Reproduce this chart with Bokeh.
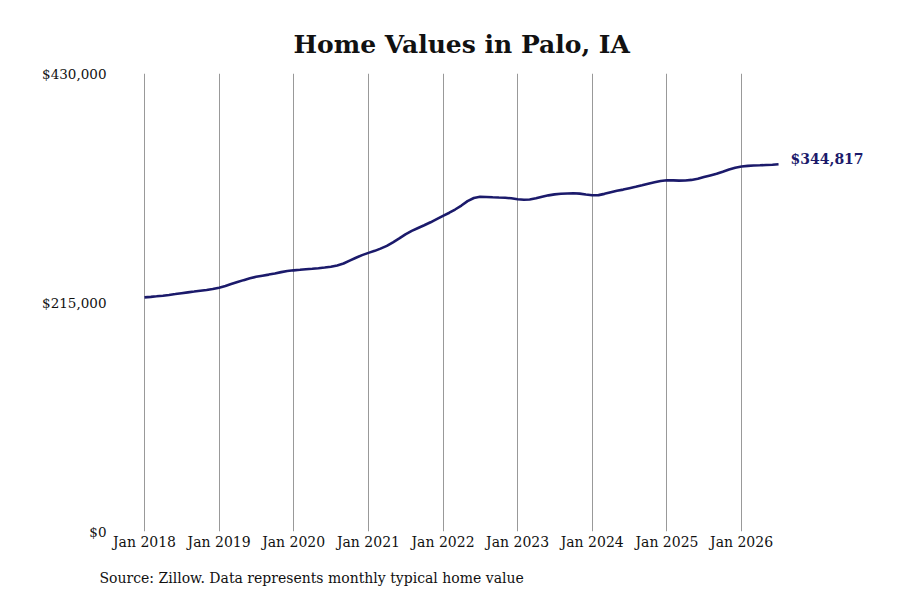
import pandas as pd
from bokeh.plotting import figure
from bokeh.models import Range1d, FixedTicker, NumeralTickFormatter, DatetimeTickFormatter, Title, Label
from bokeh.embed import file_html
from bokeh.resources import INLINE

# ---- data (monthly typical home value) ----
start_month = "2018-01-01"
values = [
    # 2018
    219850, 220300, 220800, 221400, 222100, 222900, 223700, 224500, 225300, 226100, 226800, 227700,
    # 2019
    228900, 230500, 232300, 234200, 236000, 237700, 239100, 240200, 241200, 242300, 243500, 244500,
    # 2020
    245200, 245700, 246200, 246700, 247200, 247800, 248600, 249800, 251600, 254300, 257000, 259500,
    # 2021
    261600, 263500, 265600, 268200, 271500, 275200, 279000, 282300, 285000, 287500, 290300, 293300,
    # 2022
    296400, 299300, 302300, 306000, 310200, 313100, 314200, 314100, 313800, 313600, 313400, 312800,
    # 2023
    312000, 311500, 311700, 312800, 314300, 315600, 316500, 317100, 317400, 317500, 317200, 316400,
    # 2024
    315700, 315800, 317000, 318600, 319900, 321000, 322300, 323600, 325000, 326500, 327900, 329100,
    # 2025
    329800, 329700, 329400, 329500, 330100, 331200, 332800, 334300, 335800, 337800, 339900, 341600,
    # 2026
    342700, 343300, 343600, 343800, 344100, 344400, 344817,
]
dates = pd.date_range(start_month, periods=len(values), freq="MS")
tick_years = list(range(2018, 2027))
y_ticks = [0, 215000, 430000]
title_text = "Home Values in Palo, IA"
source_text = "Source: Zillow. Data represents monthly typical home value"
last_label = "$344,817"

FONT = "DejaVu Serif"
LINE_COLOR = "#1b1a6b"

def ms(ts):
    return pd.Timestamp(ts).value / 1e6

x0 = ms(pd.Timestamp("2018-01-01") - pd.Timedelta(days=137))
x1 = ms(pd.Timestamp("2018-01-01") + pd.Timedelta(days=3602))

p = figure(width=900, height=600, output_backend="svg", toolbar_location=None,
           x_axis_type="datetime",
           x_range=Range1d(x0, x1), y_range=Range1d(0, 430000),
           min_border_left=116, min_border_right=20, min_border_top=73, min_border_bottom=66)

p.outline_line_color = None
p.background_fill_color = "white"
p.border_fill_color = "white"

p.title.text = title_text
p.title.text_font = FONT
p.title.text_font_size = "25px"
p.title.text_font_style = "bold"
p.title.text_color = "#111111"
p.title.align = "left"
p.title.offset = 177
p.title.standoff = 30

src = Title(text=source_text, text_font=FONT, text_font_size="14px",
            text_font_style="normal", text_color="#111111", align="left", offset=-17, standoff=30)
p.add_layout(src, "below")

# x axis
p.xaxis.ticker = FixedTicker(ticks=[ms(f"{y}-01-01") for y in tick_years])
p.xaxis.formatter = DatetimeTickFormatter(days="%b %Y", months="%b %Y", years="%b %Y")
p.xaxis.axis_line_color = None
p.xaxis.major_tick_line_color = None
p.xaxis.minor_tick_line_color = None
p.xaxis.major_label_standoff = -4
p.xaxis.major_label_text_font = FONT
p.xaxis.major_label_text_font_size = "14px"
p.xaxis.major_label_text_color = "#111111"

# y axis
p.yaxis.ticker = FixedTicker(ticks=y_ticks)
p.yaxis.formatter = NumeralTickFormatter(format="$0,0")
p.yaxis.axis_line_color = None
p.yaxis.major_tick_line_color = None
p.yaxis.minor_tick_line_color = None
p.yaxis.major_label_standoff = 4
p.yaxis.major_label_text_font = FONT
p.yaxis.major_label_text_font_size = "13.5px"
p.yaxis.major_label_text_color = "#111111"

p.xgrid.grid_line_color = "#999999"
p.xgrid.grid_line_width = 1
p.ygrid.grid_line_color = None

p.line(dates, values, line_color=LINE_COLOR, line_width=2.6)

lbl = Label(x=dates[-1], y=values[-1], text=last_label, x_offset=12, y_offset=5,
            text_font=FONT, text_font_size="14px", text_font_style="bold",
            text_color=LINE_COLOR, text_baseline="middle", text_align="left")
p.add_layout(lbl)

open("out.html", "w").write(file_html(p, INLINE))
